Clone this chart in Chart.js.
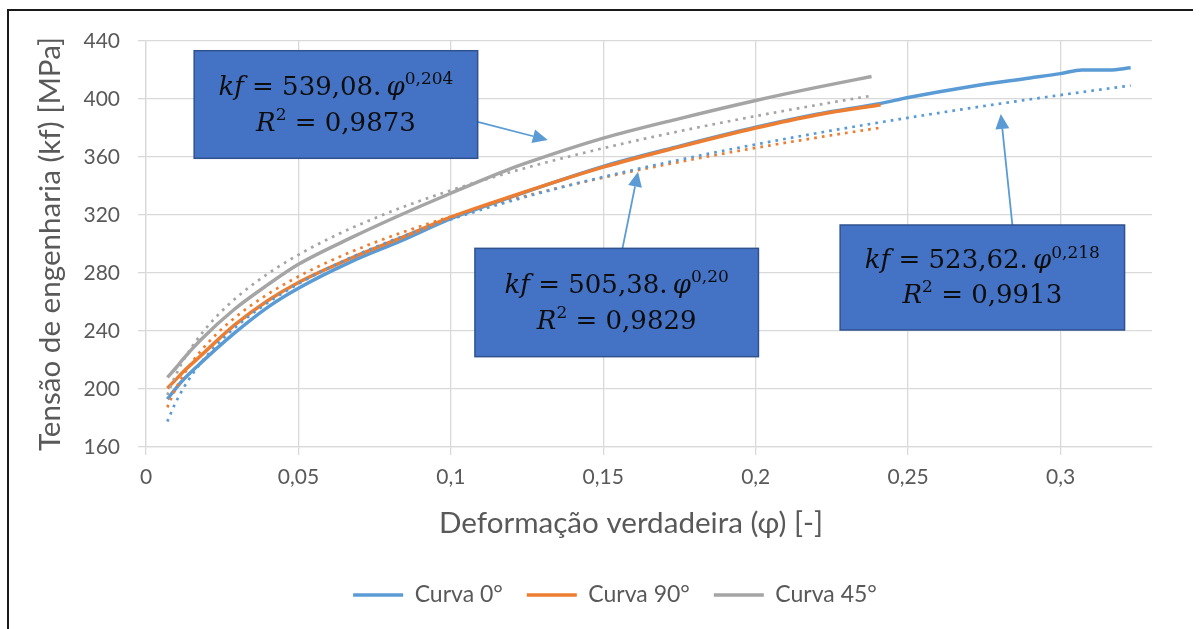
<!DOCTYPE html>
<html>
<head>
<meta charset="utf-8">
<script src="https://cdn.jsdelivr.net/npm/chart.js@4.4.0/dist/chart.umd.min.js"></script>
<style>
  html, body { margin: 0; padding: 0; background: #ffffff; }
  canvas { display: block; }
</style>
</head>
<body>
<canvas id="chart" width="1201" height="629"></canvas>
<script>
// Flow curves: true strain (φ) vs. flow stress kf [MPa]
const seriesNames = ['Curva 0°', 'Curva 90°', 'Curva 45°'];

const strain0  = [0.007, 0.010, 0.0123, 0.018, 0.029, 0.040, 0.050, 0.067, 0.084, 0.100, 0.120, 0.150, 0.175, 0.200, 0.220, 0.241, 0.250, 0.270, 0.290, 0.300, 0.307, 0.316, 0.323];
const stress0  = [193, 201, 206.5, 218, 238.5, 256.5, 269.5, 287.5, 302.5, 317.5, 332.5, 353.5, 367.5, 380.5, 389.5, 397, 401, 408.5, 414.5, 417.5, 420, 420, 421.5];

const strain90 = [0.007, 0.010, 0.0123, 0.018, 0.029, 0.040, 0.050, 0.067, 0.084, 0.100, 0.120, 0.150, 0.175, 0.200, 0.220, 0.241];
const stress90 = [200.5, 207, 212, 223, 244, 261, 273.5, 290, 304.5, 318.5, 333, 353, 367, 380, 389, 396];

const strain45 = [0.007, 0.010, 0.0123, 0.018, 0.029, 0.040, 0.050, 0.067, 0.084, 0.100, 0.119, 0.127, 0.150, 0.175, 0.200, 0.220, 0.238];
const stress45 = [208, 215, 221, 234, 255, 272, 286, 304, 320.5, 335, 351.5, 357.5, 373, 386.5, 399, 408, 415.5];

// Power-law fits kf = C · φ^n, as printed in the equation boxes
const fitCoefText = ['523,62', '505,38', '539,08'];
const fitExpText  = ['0,218', '0,20', '0,204'];
const fitR2Text   = ['0,9913', '0,9829', '0,9873'];

const xTicks = [0, 0.05, 0.1, 0.15, 0.2, 0.25, 0.3];
const yTicks = [160, 200, 240, 280, 320, 360, 400, 440];

const xTitle = 'Deformação verdadeira (φ) [-]';
const yTitle = 'Tensão de engenharia (kf) [MPa]';

// ---- presentation ----
const colors = ['#5B9BD5', '#ED7D31', '#A5A5A5'];
const drawOrder = [3, 1, 2];
const uiFont = 'Lato, "Open Sans", sans-serif';
const mathFont = '"DejaVu Serif", "Liberation Serif", serif';
const titleSize = 29.6;

const num = s => parseFloat(s.replace(',', '.'));
const strains = [strain0, strain90, strain45];
const stresses = [stress0, stress90, stress45];

const datasets = seriesNames.map((name, i) => ({
  label: name,
  data: strains[i].map((x, j) => ({ x, y: stresses[i][j] })),
  showLine: true,
  borderColor: colors[i],
  backgroundColor: colors[i],
  borderWidth: 3.5,
  pointRadius: 0,
  pointHoverRadius: 0,
  cubicInterpolationMode: 'monotone',
  order: drawOrder[i]
}));

// dotted trend lines over each curve's own strain range
seriesNames.forEach((name, i) => {
  const C = num(fitCoefText[i]), n = num(fitExpText[i]);
  const x0 = strains[i][0], x1 = strains[i][strains[i].length - 1];
  const pts = [];
  const steps = 160;
  for (let k = 0; k <= steps; k++) {
    const x = x0 + (x1 - x0) * k / steps;
    pts.push({ x, y: C * Math.pow(x, n) });
  }
  datasets.push({
    label: 'Potência (' + name + ')',
    data: pts,
    showLine: true,
    borderColor: colors[i],
    borderWidth: 2.7,
    borderDash: [2.7, 5.1],
    borderCapStyle: 'butt',
    pointRadius: 0,
    pointHoverRadius: 0,
    order: 0
  });
});

// equation boxes and arrows (in axis units)
const callouts = [
  { fit: 2, box: [0.0158, 0.1088, 433.3, 359.1], from: [0.1088, 384.3], to: [0.1318, 371.7] },
  { fit: 1, box: [0.1079, 0.2009, 297.0, 222.3], from: [0.1563, 297.0], to: [0.1614, 349.9] },
  { fit: 0, box: [0.2277, 0.3210, 313.1, 240.7], from: [0.2842, 313.1], to: [0.2804, 389.7] }
];

function drawRich(ctx, segs, cx, cy) {
  const size = 26;
  const fontOf = s => s.sup ? `${Math.round(size * 0.66)}px ${mathFont}`
                            : `${s.it ? 'italic ' : ''}${size}px ${mathFont}`;
  let total = 0;
  for (const s of segs) { ctx.font = fontOf(s); s.w = ctx.measureText(s.t).width; total += s.w; }
  let x = cx - total / 2;
  const base = cy + size * 0.36;
  ctx.textAlign = 'left';
  ctx.textBaseline = 'alphabetic';
  for (const s of segs) {
    ctx.font = fontOf(s);
    ctx.fillText(s.t, x, s.sup ? base - size * 0.42 : base);
    x += s.w;
  }
}

const calloutPlugin = {
  id: 'callouts',
  afterDatasetsDraw(chart) {
    const { ctx, scales: { x: xs, y: ys } } = chart;
    ctx.save();
    // arrows
    for (const c of callouts) {
      const ax = xs.getPixelForValue(c.from[0]), ay = ys.getPixelForValue(c.from[1]);
      const bx = xs.getPixelForValue(c.to[0]), by = ys.getPixelForValue(c.to[1]);
      const ang = Math.atan2(by - ay, bx - ax);
      const headLen = 15, headHalf = 7;
      const hx = bx - headLen * Math.cos(ang), hy = by - headLen * Math.sin(ang);
      ctx.strokeStyle = '#5B9BD5';
      ctx.fillStyle = '#5B9BD5';
      ctx.lineWidth = 1.8;
      ctx.beginPath(); ctx.moveTo(ax, ay); ctx.lineTo(hx, hy); ctx.stroke();
      ctx.beginPath();
      ctx.moveTo(bx, by);
      ctx.lineTo(hx + headHalf * Math.sin(ang), hy - headHalf * Math.cos(ang));
      ctx.lineTo(hx - headHalf * Math.sin(ang), hy + headHalf * Math.cos(ang));
      ctx.closePath(); ctx.fill();
    }
    // boxes with the fitted equations
    for (const c of callouts) {
      const l = xs.getPixelForValue(c.box[0]), r = xs.getPixelForValue(c.box[1]);
      const t = ys.getPixelForValue(c.box[2]), b = ys.getPixelForValue(c.box[3]);
      const w = r - l, h = b - t;
      ctx.fillStyle = '#4472C4';
      ctx.fillRect(l, t, w, h);
      ctx.strokeStyle = '#2F528F';
      ctx.lineWidth = 1.5;
      ctx.strokeRect(l, t, w, h);
      ctx.fillStyle = '#0d0d0d';
      const i = c.fit;
      drawRich(ctx, [
        { t: 'kf', it: true },
        { t: ' = ' + fitCoefText[i] + '.' },
        { t: '\u2009' },
        { t: 'φ', it: true },
        { t: fitExpText[i], sup: true }
      ], l + w / 2, t + h * 0.325);
      drawRich(ctx, [
        { t: 'R', it: true },
        { t: '2', sup: true },
        { t: ' = ' + fitR2Text[i] }
      ], l + w / 2, t + h * 0.655);
    }
    ctx.restore();
  },
  afterDraw(chart) {
    const { ctx, chartArea } = chart;
    ctx.save();
    // horizontal axis title, set slightly left of the plot centre
    ctx.fillStyle = '#595959';
    ctx.font = `${titleSize}px ${uiFont}`;
    ctx.textAlign = 'center';
    ctx.textBaseline = 'middle';
    ctx.fillText(xTitle, (chartArea.left + chartArea.right) / 2 - 18, chartArea.bottom + 76);
    // frame
    ctx.strokeStyle = '#1a1a1a';
    ctx.lineWidth = 2;
    ctx.beginPath();
    ctx.moveTo(8, 629); ctx.lineTo(8, 10); ctx.lineTo(1193, 10);
    ctx.stroke();
    ctx.restore();
  }
};

const legendShift = {
  id: 'legendShift',
  afterLayout(chart) {
    chart.legend.left += 39;
    chart.legend.right += 39;
  }
};

const fmtStrain = v => v === 0 ? '0' : String(Math.round(v * 100) / 100).replace('.', ',');

new Chart(document.getElementById('chart'), {
  type: 'scatter',
  data: { datasets },
  plugins: [calloutPlugin, legendShift],
  options: {
    responsive: false,
    animation: false,
    devicePixelRatio: 1,
    layout: { padding: { left: 0, right: 49, top: 41, bottom: 12.5 } },
    plugins: {
      tooltip: { enabled: false },
      legend: {
        position: 'bottom',
        labels: {
          usePointStyle: true,
          pointStyle: 'line',
          pointStyleWidth: 50,
          padding: 24,
          color: '#595959',
          font: { family: uiFont, size: 23 },
          filter: item => item.datasetIndex < seriesNames.length,
          sort: (a, b) => a.datasetIndex - b.datasetIndex
        }
      }
    },
    scales: {
      x: {
        type: 'linear',
        min: 0,
        max: 0.33,
        afterBuildTicks: s => { s.ticks = xTicks.map(v => ({ value: v })); },
        afterFit: s => { s.height = 112.5; },
        ticks: {
          callback: v => fmtStrain(v),
          autoSkip: false,
          maxRotation: 0,
          padding: 9.4,
          color: '#595959',
          font: { family: uiFont, size: 21 }
        },
        grid: { color: '#d9d9d9', lineWidth: 1.3, tickLength: 8 },
        border: { color: '#d9d9d9', width: 1.3 }
      },
      y: {
        min: 160,
        max: 440,
        afterBuildTicks: s => { s.ticks = yTicks.map(v => ({ value: v })); },
        afterFit: s => { s.width = 146; },
        ticks: {
          padding: 18,
          color: '#595959',
          font: { family: uiFont, size: 21 }
        },
        grid: { color: '#d9d9d9', lineWidth: 1.3, tickLength: 8 },
        border: { color: '#d9d9d9', width: 1.3 },
        title: {
          display: true,
          text: yTitle,
          color: '#595959',
          font: { family: uiFont, size: titleSize },
          padding: { top: 32.4, bottom: 0 }
        }
      }
    }
  }
});
</script>
</body>
</html>
